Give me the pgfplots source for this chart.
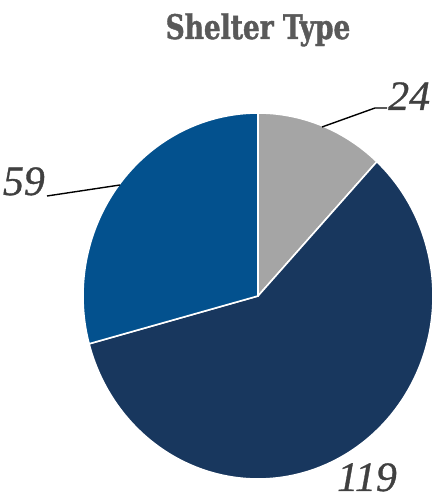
\documentclass[border=0pt]{standalone}
\usepackage{pgfplots}
\usepackage{pgfplotstable}
\pgfplotsset{compat=1.18}
\usepackage{fontspec}
\setmainfont{Liberation Serif}
\newfontfamily\titlefont[FakeStretch=0.78,FakeBold=1.2]{DejaVu Serif}
\newfontfamily\labelfont[FakeBold=0.8]{Liberation Serif}
\definecolor{cgray}{RGB}{165,165,165}
\definecolor{cnavy}{RGB}{24,55,94}
\definecolor{cblue}{RGB}{3,81,142}
\definecolor{ctitle}{RGB}{89,89,89}
\definecolor{clabel}{RGB}{64,64,64}
\pgfplotstableread{
label value
Gray 24
Navy 119
Blue 59
}\shelter
\begin{document}%
\begin{tikzpicture}
\pgfplotstablegetelem{0}{value}\of\shelter \let\va\pgfplotsretval
\pgfplotstablegetelem{1}{value}\of\shelter \let\vb\pgfplotsretval
\pgfplotstablegetelem{2}{value}\of\shelter \let\vc\pgfplotsretval
\pgfmathsetmacro\tot{\va+\vb+\vc}
\pgfmathsetmacro\aA{90}
\pgfmathsetmacro\aB{90-(\va/\tot)*360}
\pgfmathsetmacro\aC{\aB-(\vb/\tot)*360}
\pgfmathsetmacro\aD{\aC-(\vc/\tot)*360}
\begin{axis}[width=436bp, height=499bp, scale only axis,
  xmin=0, xmax=436, ymin=0, ymax=499, hide axis, clip=false]
\addplot[fill=cgray, draw=white, line width=1.6pt, domain=\aB:\aA, samples=60, variable=\t]
  ({258+175*cos(t)}, {203+183*sin(t)}) -- (axis cs:258,203) -- cycle;
\addplot[fill=cnavy, draw=white, line width=1.6pt, domain=\aC:\aB, samples=150, variable=\t]
  ({258+175*cos(t)}, {203+183*sin(t)}) -- (axis cs:258,203) -- cycle;
\addplot[fill=cblue, draw=white, line width=1.6pt, domain=\aD:\aC, samples=90, variable=\t]
  ({258+175*cos(t)}, {203+183*sin(t)}) -- (axis cs:258,203) -- cycle;
\addplot[black, line width=1.4pt] coordinates {(322,372) (375,391) (387,391)};
\addplot[black, line width=1.4pt] coordinates {(47,303) (120,314)};
\node[anchor=base, inner sep=0, text=ctitle, font=\titlefont\bfseries\fontsize{34}{40}\selectfont] at (axis cs:258,460) {Shelter Type};
\node[anchor=base west, inner sep=0, text=clabel, font=\labelfont\itshape\fontsize{42}{48}\selectfont] at (axis cs:388,389) {24};
\node[anchor=base east, inner sep=0, text=clabel, font=\labelfont\itshape\fontsize{42}{48}\selectfont] at (axis cs:45,304) {59};
\node[anchor=base west, inner sep=0, text=clabel, font=\labelfont\itshape\fontsize{42}{48}\selectfont] at (axis cs:337,8) {119};
\coordinate (bl) at (rel axis cs:0,0);
\coordinate (tr) at (rel axis cs:1,1);
\end{axis}
\pgfresetboundingbox
\path[use as bounding box] (bl) rectangle (tr);
\end{tikzpicture}%
\end{document}
